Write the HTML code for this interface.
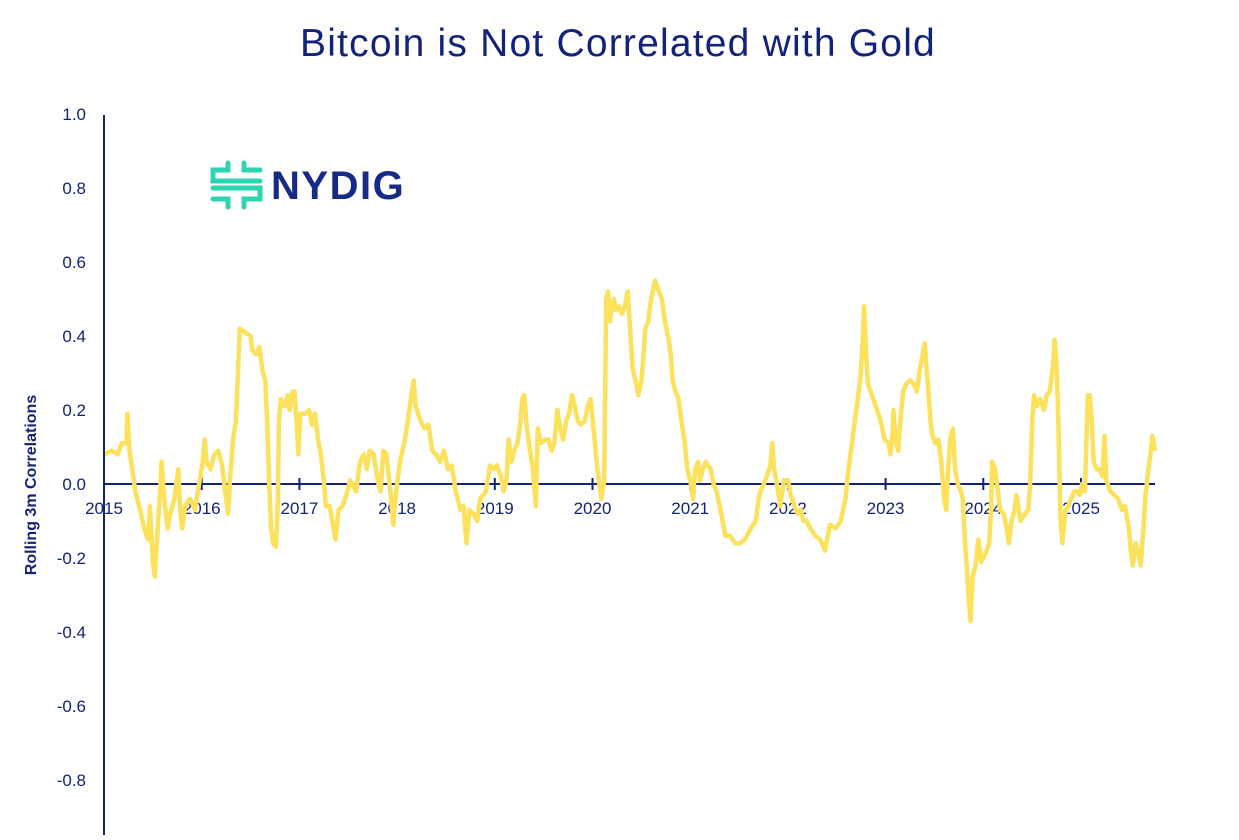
<!DOCTYPE html>
<html><head><meta charset="utf-8">
<style>
html,body{margin:0;padding:0;background:#fff;}
body{width:1239px;height:835px;overflow:hidden;position:relative;font-family:"Liberation Sans",sans-serif;}
</style></head>
<body>
<svg id="chart" width="1239" height="835" viewBox="0 0 1239 835" xmlns="http://www.w3.org/2000/svg">
  <text x="618" y="56" text-anchor="middle" font-family="Liberation Sans, sans-serif" font-size="39" letter-spacing="1.2" fill="#13237a">Bitcoin is Not Correlated with Gold</text>
  <g>
    <g fill="none" stroke="#2dd4b0" stroke-width="5" stroke-linecap="round">
      <path d="M228 163 V170 H213 V181 H260"/>
      <path d="M244 163 V170 H260"/>
      <path d="M213 188 H260 V199 H244 V207"/>
      <path d="M213 199 H228 V207"/>
    </g>
    <text x="271" y="199" font-family="Liberation Sans, sans-serif" font-weight="bold" font-size="40" letter-spacing="1.5" fill="#172a86">NYDIG</text>
  </g>
  <text transform="translate(36,485) rotate(-90)" text-anchor="middle" font-family="Liberation Sans, sans-serif" font-weight="bold" font-size="16" fill="#13237a">Rolling 3m Correlations</text>
  <g id="yticks"></g>
  <g id="xticks"></g>
  <path id="series" fill="none" stroke="#fbe15c" stroke-width="4.5" stroke-linejoin="round"/>
  <line x1="104" y1="115" x2="104" y2="835" stroke="#13237a" stroke-width="2"/>
</svg>
<script>
const yTickValues = [1.0,0.8,0.6,0.4,0.2,0.0,-0.2,-0.4,-0.6,-0.8,-1.0];
const xTickYears = [2015,2016,2017,2018,2019,2020,2021,2022,2023,2024,2025];
const dates = [2015.00,2015.08,2015.14,2015.18,2015.23,2015.24,2015.26,2015.29,2015.32,2015.37,2015.41,2015.45,2015.47,2015.50,2015.52,2015.55,2015.57,2015.59,2015.61,2015.65,2015.68,2015.72,2015.76,2015.78,2015.80,2015.83,2015.88,2015.93,2015.98,
2016.01,2016.03,2016.05,2016.09,2016.13,2016.17,2016.21,2016.24,2016.27,2016.29,2016.32,2016.35,2016.37,2016.39,2016.44,2016.50,2016.52,2016.56,2016.59,2016.62,2016.65,2016.67,2016.69,2016.71,2016.73,2016.76,2016.78,2016.79,2016.81,2016.85,2016.88,2016.90,2016.93,2016.95,2016.97,2016.99,
2017.01,2017.06,2017.10,2017.13,2017.16,2017.19,2017.22,2017.25,2017.27,2017.31,2017.37,2017.40,2017.44,2017.48,2017.52,2017.58,2017.62,2017.66,2017.69,2017.72,2017.76,2017.80,2017.83,2017.86,2017.89,2017.93,2017.96,2017.99,
2018.03,2018.08,2018.11,2018.14,2018.17,2018.19,2018.24,2018.28,2018.32,2018.36,2018.40,2018.44,2018.48,2018.52,2018.56,2018.60,2018.65,2018.68,2018.71,2018.74,2018.78,2018.82,2018.85,2018.91,2018.95,2018.99,
2019.02,2019.06,2019.09,2019.12,2019.14,2019.17,2019.20,2019.23,2019.26,2019.28,2019.30,2019.33,2019.36,2019.39,2019.42,2019.44,2019.47,2019.52,2019.55,2019.58,2019.61,2019.64,2019.67,2019.70,2019.73,2019.76,2019.79,2019.82,2019.85,2019.88,2019.92,2019.95,2019.98,
2020.01,2020.05,2020.09,2020.12,2020.14,2020.16,2020.18,2020.20,2020.22,2020.24,2020.27,2020.30,2020.33,2020.36,2020.39,2020.41,2020.44,2020.47,2020.50,2020.52,2020.54,2020.57,2020.60,2020.64,2020.68,2020.71,2020.74,2020.78,2020.80,2020.82,2020.85,2020.88,2020.91,2020.94,2020.97,
2021.00,2021.03,2021.05,2021.08,2021.10,2021.13,2021.16,2021.21,2021.24,2021.27,2021.31,2021.36,2021.41,2021.46,2021.51,2021.56,2021.62,2021.67,2021.70,2021.72,2021.77,2021.82,2021.84,2021.86,2021.90,2021.92,2021.96,
2022.00,2022.03,2022.07,2022.10,2022.13,2022.16,2022.19,2022.23,2022.28,2022.33,2022.38,2022.43,2022.49,2022.54,2022.59,2022.62,2022.66,2022.70,2022.74,2022.76,2022.78,2022.80,2022.82,2022.86,2022.90,2022.95,2022.99,
2023.03,2023.05,2023.07,2023.08,2023.10,2023.13,2023.15,2023.18,2023.21,2023.25,2023.29,2023.32,2023.35,2023.38,2023.40,2023.43,2023.46,2023.48,2023.51,2023.54,2023.57,2023.60,2023.62,2023.64,2023.66,2023.69,2023.71,2023.74,2023.77,2023.79,2023.81,2023.83,2023.85,2023.87,2023.89,2023.92,2023.95,2023.98,
2024.02,2024.06,2024.08,2024.09,2024.12,2024.15,2024.17,2024.21,2024.24,2024.26,2024.29,2024.32,2024.34,2024.38,2024.43,2024.46,2024.48,2024.50,2024.52,2024.55,2024.58,2024.62,2024.65,2024.68,2024.71,2024.73,2024.75,2024.77,2024.79,2024.81,2024.84,2024.87,2024.90,2024.93,2024.96,2024.99,
2025.01,2025.04,2025.07,2025.09,2025.11,2025.13,2025.16,2025.19,2025.22,2025.24,2025.26,2025.30,2025.34,2025.38,2025.42,2025.45,2025.49,2025.51,2025.53,2025.56,2025.59,2025.61,2025.64,2025.66,2025.69,2025.71,2025.73,2025.76];
const correlations = [0.08,0.09,0.08,0.11,0.11,0.19,0.09,0.04,-0.02,-0.07,-0.12,-0.15,-0.06,-0.21,-0.25,-0.12,-0.04,0.06,-0.02,-0.12,-0.08,-0.04,0.04,-0.07,-0.12,-0.06,-0.04,-0.07,0.01,
0.06,0.12,0.06,0.04,0.08,0.09,0.05,-0.02,-0.08,0.01,0.12,0.17,0.29,0.42,0.41,0.40,0.36,0.35,0.37,0.31,0.28,0.17,0.01,-0.12,-0.16,-0.17,-0.04,0.17,0.23,0.21,0.24,0.20,0.25,0.25,0.17,0.08,
0.19,0.19,0.20,0.16,0.19,0.12,0.08,0.01,-0.06,-0.06,-0.15,-0.07,-0.06,-0.03,0.01,-0.02,0.06,0.08,0.04,0.09,0.08,0.01,-0.02,0.09,0.08,-0.02,-0.11,-0.02,
0.06,0.12,0.17,0.23,0.28,0.21,0.17,0.15,0.16,0.09,0.08,0.06,0.09,0.04,0.05,-0.02,-0.07,-0.06,-0.16,-0.07,-0.08,-0.10,-0.04,-0.02,0.05,0.04,
0.05,0.02,-0.02,0.01,0.12,0.06,0.09,0.11,0.16,0.23,0.24,0.15,0.09,0.04,-0.06,0.15,0.11,0.12,0.12,0.09,0.11,0.20,0.15,0.12,0.17,0.19,0.24,0.21,0.17,0.16,0.17,0.21,0.23,
0.15,0.04,-0.04,0.01,0.50,0.52,0.44,0.48,0.50,0.47,0.48,0.46,0.48,0.52,0.40,0.31,0.28,0.24,0.28,0.34,0.42,0.44,0.50,0.55,0.52,0.50,0.44,0.39,0.35,0.28,0.25,0.23,0.17,0.12,0.04,
0.01,-0.04,0.04,0.06,0.01,0.04,0.06,0.04,0.00,-0.02,-0.07,-0.14,-0.14,-0.16,-0.16,-0.15,-0.12,-0.10,-0.04,-0.02,0.01,0.05,0.11,0.04,-0.02,-0.06,0.01,
0.01,-0.03,-0.06,-0.08,-0.07,-0.10,-0.10,-0.12,-0.14,-0.15,-0.18,-0.11,-0.12,-0.10,-0.04,0.04,0.12,0.20,0.28,0.36,0.48,0.35,0.27,0.24,0.21,0.17,0.12,
0.11,0.08,0.13,0.20,0.12,0.09,0.17,0.25,0.27,0.28,0.27,0.25,0.31,0.35,0.38,0.28,0.17,0.13,0.11,0.12,0.06,-0.04,-0.07,0.04,0.12,0.15,0.04,0.00,-0.02,-0.04,-0.15,-0.22,-0.31,-0.37,-0.25,-0.22,-0.15,-0.21,
-0.19,-0.16,-0.07,0.06,0.04,-0.02,-0.07,-0.08,-0.12,-0.16,-0.10,-0.07,-0.03,-0.10,-0.08,-0.07,0.00,0.17,0.24,0.21,0.23,0.20,0.24,0.25,0.31,0.39,0.32,0.15,-0.10,-0.16,-0.07,-0.06,-0.04,-0.02,-0.02,-0.03,
0.00,-0.02,0.24,0.24,0.17,0.06,0.04,0.04,0.02,0.13,0.01,-0.02,-0.03,-0.04,-0.07,-0.06,-0.12,-0.18,-0.22,-0.16,-0.19,-0.22,-0.12,-0.03,0.04,0.08,0.13,0.09];

const NS = 'http://www.w3.org/2000/svg';
const X0 = 104, PXYEAR = 97.7, Y0 = 484, PXUNIT = 370;
function xScale(yr){ return X0 + (yr - 2015) * PXYEAR; }
function yScale(v){ return Y0 - v * PXUNIT; }

const yg = document.getElementById('yticks');
yTickValues.forEach(v => {
  const t = document.createElementNS(NS,'text');
  
  
  t.setAttribute('x', 86);
  t.setAttribute('y', yScale(v) + 6);
  t.setAttribute('text-anchor','end');
  t.setAttribute('font-size','17');
  t.setAttribute('fill','#13237a');
  t.textContent = v.toFixed(1);
  yg.appendChild(t);
});

const xg = document.getElementById('xticks');
const axis = document.createElementNS(NS,'line');


axis.setAttribute('x1', X0); axis.setAttribute('x2', 1155);
axis.setAttribute('y1', Y0); axis.setAttribute('y2', Y0);
axis.setAttribute('stroke','#13237a'); axis.setAttribute('stroke-width','2');
xg.appendChild(axis);
xTickYears.forEach(yr => {
  const x = xScale(yr);
  const tk = document.createElementNS(NS,'line');
  
  
  tk.setAttribute('x1', x); tk.setAttribute('x2', x);
  tk.setAttribute('y1', Y0 - 6); tk.setAttribute('y2', Y0 + 6);
  tk.setAttribute('stroke','#13237a'); tk.setAttribute('stroke-width','2');
  xg.appendChild(tk);
  const t = document.createElementNS(NS,'text');
  
  
  t.setAttribute('x', x);
  t.setAttribute('y', Y0 + 30);
  t.setAttribute('text-anchor','middle');
  t.setAttribute('font-size','17');
  t.setAttribute('fill','#13237a');
  t.textContent = String(yr);
  xg.appendChild(t);
});

let d = '';
dates.forEach((yr,i) => {
  d += (i ? 'L' : 'M') + xScale(yr).toFixed(1) + ' ' + yScale(correlations[i]).toFixed(1);
});
document.getElementById('series').setAttribute('d', d);
</script>
</body></html>
